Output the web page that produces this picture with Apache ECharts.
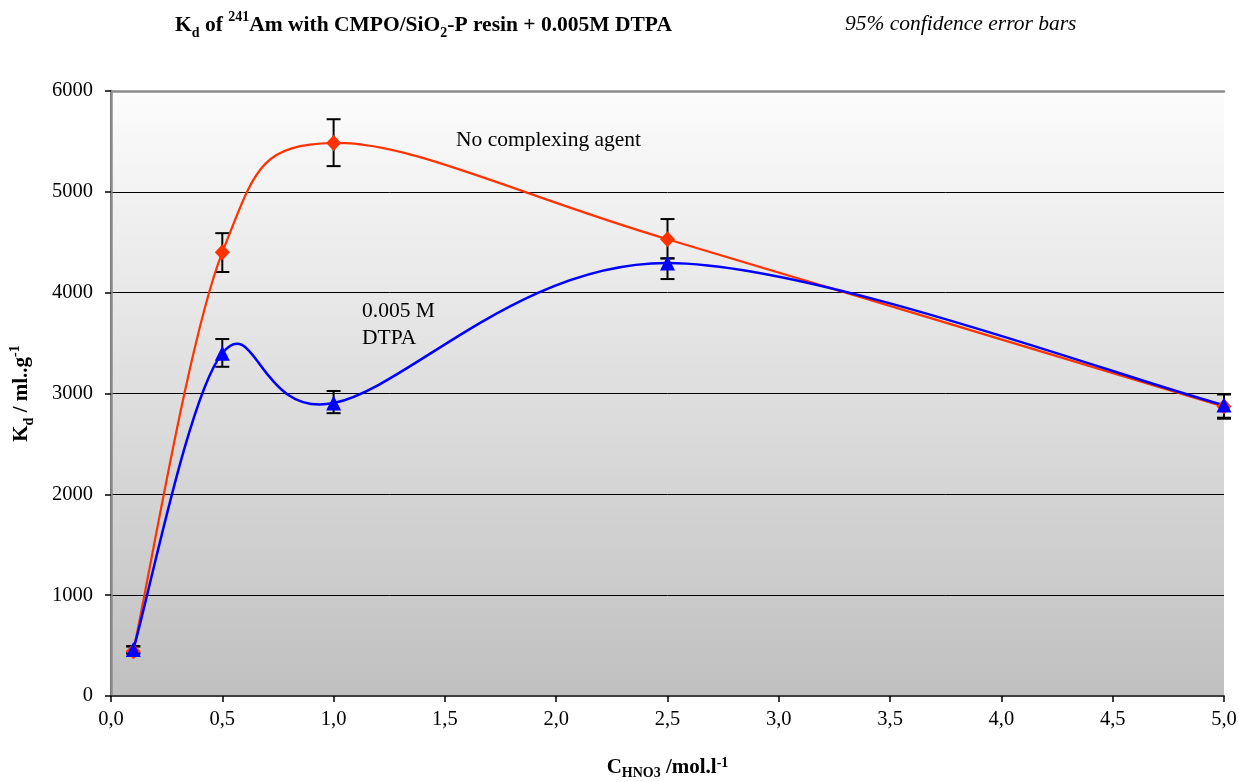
<!DOCTYPE html>
<html>
<head>
<meta charset="utf-8">
<script src="https://cdn.jsdelivr.net/npm/echarts@6/dist/echarts.min.js"></script>
<style>
html,body{margin:0;padding:0;background:#fff;}
#chart{width:1239px;height:782px;}
</style>
</head>
<body>
<div id="chart"></div>
<script>
const xVals = [0.1, 0.5, 1.0, 2.5, 5.0];
const noAgent = [445, 4400, 5485, 4530, 2870];
const noAgentLow = [420, 4205, 5255, 4340, 2760];
const noAgentHigh = [490, 4590, 5720, 4730, 2990];
const dtpa = [460, 3400, 2905, 4295, 2885];
const dtpaLow = [425, 3265, 2805, 4135, 2750];
const dtpaHigh = [495, 3540, 3025, 4340, 2995];
const xTicks = [0, 0.5, 1, 1.5, 2, 2.5, 3, 3.5, 4, 4.5, 5];
const yTicks = [0, 1000, 2000, 3000, 4000, 5000, 6000];

const FONT = '"Liberation Serif", "Times New Roman", serif';

function pairs(xs, ys) { return xs.map((x, i) => [x, ys[i]]); }
function errData(xs, lo, hi) { return xs.map((x, i) => [x, lo[i], hi[i]]); }

function errRender(params, api) {
  const x = api.value(0);
  const p1 = api.coord([x, api.value(1)]);
  const p2 = api.coord([x, api.value(2)]);
  const hw = 7;
  const st = { stroke: '#000', lineWidth: 2 };
  return {
    type: 'group',
    children: [
      { type: 'line', shape: { x1: p1[0], y1: p1[1], x2: p2[0], y2: p2[1] }, style: st },
      { type: 'line', shape: { x1: p1[0] - hw, y1: p1[1], x2: p1[0] + hw, y2: p1[1] }, style: st },
      { type: 'line', shape: { x1: p2[0] - hw, y1: p2[1], x2: p2[0] + hw, y2: p2[1] }, style: st }
    ]
  };
}

// Excel-like smoothed curve (Catmull-Rom / Bezier, tension 1/6) computed in pixel space
function curveRenderer(xs, ys, color, width) {
  return function (params, api) {
    if (params.dataIndex !== 0) return null;
    const pts = xs.map((x, i) => api.coord([x, ys[i]]));
    const n = pts.length;
    let d = 'M' + pts[0][0] + ' ' + pts[0][1];
    for (let i = 0; i < n - 1; i++) {
      const p0 = pts[Math.max(0, i - 1)];
      const p1 = pts[i];
      const p2 = pts[i + 1];
      const p3 = pts[Math.min(n - 1, i + 2)];
      const c1 = [p1[0] + (p2[0] - p0[0]) / 6, p1[1] + (p2[1] - p0[1]) / 6];
      const c2 = [p2[0] - (p3[0] - p1[0]) / 6, p2[1] - (p3[1] - p1[1]) / 6];
      d += ' C' + c1[0] + ' ' + c1[1] + ' ' + c2[0] + ' ' + c2[1] + ' ' + p2[0] + ' ' + p2[1];
    }
    return {
      type: 'path',
      shape: { pathData: d },
      style: { fill: null, stroke: color, lineWidth: width }
    };
  };
}

const subSup = (size, lh) => ({
  sub: { fontFamily: FONT, fontSize: size, fontWeight: 'bold', verticalAlign: 'bottom', lineHeight: lh },
  sup: { fontFamily: FONT, fontSize: size, fontWeight: 'bold', verticalAlign: 'top', lineHeight: lh }
});

const chart = echarts.init(document.getElementById('chart'), null, { renderer: 'canvas' });
const option = {
  backgroundColor: '#ffffff',
  animation: false,
  title: [{
    text: 'K{sub|d} of {sup|241}Am with CMPO/SiO{sub|2}-P resin + 0.005M DTPA',
    left: 175, top: 10, padding: 0,
    textStyle: {
      fontFamily: FONT, fontSize: 21.5, fontWeight: 'bold', color: '#000', lineHeight: 30,
      rich: subSup(14, 30)
    }
  }, {
    text: '95% confidence error bars',
    left: 845, top: 13, padding: 0,
    textStyle: { fontFamily: FONT, fontSize: 21.5, fontStyle: 'italic', fontWeight: 'normal', color: '#000' }
  }],
  grid: {
    left: 111, right: 15, top: 91, bottom: 86,
    containLabel: false,
    outerBoundsMode: 'none',
    show: true,
    borderWidth: 0,
    backgroundColor: new echarts.graphic.LinearGradient(0, 0, 0, 1, [
      { offset: 0, color: '#fcfcfc' },
      { offset: 1, color: '#c0c0c0' }
    ])
  },
  xAxis: [{
    type: 'value', min: xTicks[0], max: xTicks[xTicks.length - 1], interval: 0.5,
    axisLine: { show: true, onZero: false, lineStyle: { color: '#404040', width: 2 } },
    axisTick: { show: true, inside: false, length: 6, lineStyle: { color: '#000', width: 1.5 } },
    splitLine: { show: false },
    axisLabel: {
      fontFamily: FONT, fontSize: 20.5, color: '#000', margin: 13,
      formatter: v => v.toFixed(1).replace('.', ',')
    },
    name: 'C{sub|HNO3} /mol.l{sup|-1}',
    nameLocation: 'middle', nameGap: 60,
    nameTextStyle: {
      fontFamily: FONT, fontSize: 21, fontWeight: 'bold', color: '#000', lineHeight: 24,
      rich: subSup(14, 24)
    }
  }, {
    type: 'value', position: 'top', min: xTicks[0], max: xTicks[xTicks.length - 1],
    axisLine: { show: true, onZero: false, lineStyle: { color: '#8c8c8c', width: 2.5 } },
    axisTick: { show: false }, axisLabel: { show: false }, splitLine: { show: false }
  }],
  yAxis: [{
    type: 'value', min: yTicks[0], max: yTicks[yTicks.length - 1], interval: 1000,
    axisLine: { show: true, lineStyle: { color: '#404040', width: 2 } },
    axisTick: { show: true, inside: false, length: 6, lineStyle: { color: '#000', width: 1.5 } },
    splitLine: { show: true, lineStyle: { color: '#000', width: 1 } },
    axisLabel: { fontFamily: FONT, fontSize: 20.5, color: '#000', margin: 18, formatter: v => String(v) },
    name: 'K{sub|d} / ml..g{sup|-1}',
    nameLocation: 'middle', nameGap: 75, nameRotate: 90,
    nameTextStyle: {
      fontFamily: FONT, fontSize: 21, fontWeight: 'bold', color: '#000', lineHeight: 28,
      rich: subSup(14, 28)
    }
  }, {
    type: 'value', position: 'right', min: yTicks[0], max: yTicks[yTicks.length - 1],
    axisLine: { show: true, lineStyle: { color: '#8c8c8c', width: 2.5 } },
    axisTick: { show: false }, axisLabel: { show: false }, splitLine: { show: false }
  }],
  series: [
    {
      name: 'errNo', type: 'custom', renderItem: errRender, z: 2,
      data: errData(xVals, noAgentLow, noAgentHigh), silent: true
    },
    {
      name: 'errDtpa', type: 'custom', renderItem: errRender, z: 2,
      data: errData(xVals, dtpaLow, dtpaHigh), silent: true
    },
    {
      name: 'No complexing agent curve', type: 'custom', z: 3, silent: true,
      renderItem: curveRenderer(xVals, noAgent, '#ff3300', 2.2),
      data: pairs(xVals, noAgent)
    },
    {
      name: '0.005 M DTPA curve', type: 'custom', z: 4, silent: true,
      renderItem: curveRenderer(xVals, dtpa, '#0000ff', 2.5),
      data: pairs(xVals, dtpa)
    },
    {
      name: 'No complexing agent', type: 'scatter', z: 5,
      data: pairs(xVals, noAgent),
      symbol: 'diamond', symbolSize: [15, 16],
      itemStyle: { color: '#ff3300', opacity: 1 }
    },
    {
      name: '0.005 M DTPA', type: 'scatter', z: 6,
      data: pairs(xVals, dtpa),
      symbol: 'triangle', symbolSize: [15, 15],
      itemStyle: { color: '#0000ff', opacity: 1 }
    }
  ],
  graphic: [
    { type: 'text', left: 456, top: 129, z: 10, style: { text: 'No complexing agent', font: '21.5px ' + FONT, fill: '#000' } },
    { type: 'text', left: 362, top: 298, z: 10, style: { text: '0.005 M\nDTPA', font: '21.5px ' + FONT, fill: '#000', lineHeight: 27 } }
  ]
};
chart.setOption(option);
</script>
</body>
</html>
